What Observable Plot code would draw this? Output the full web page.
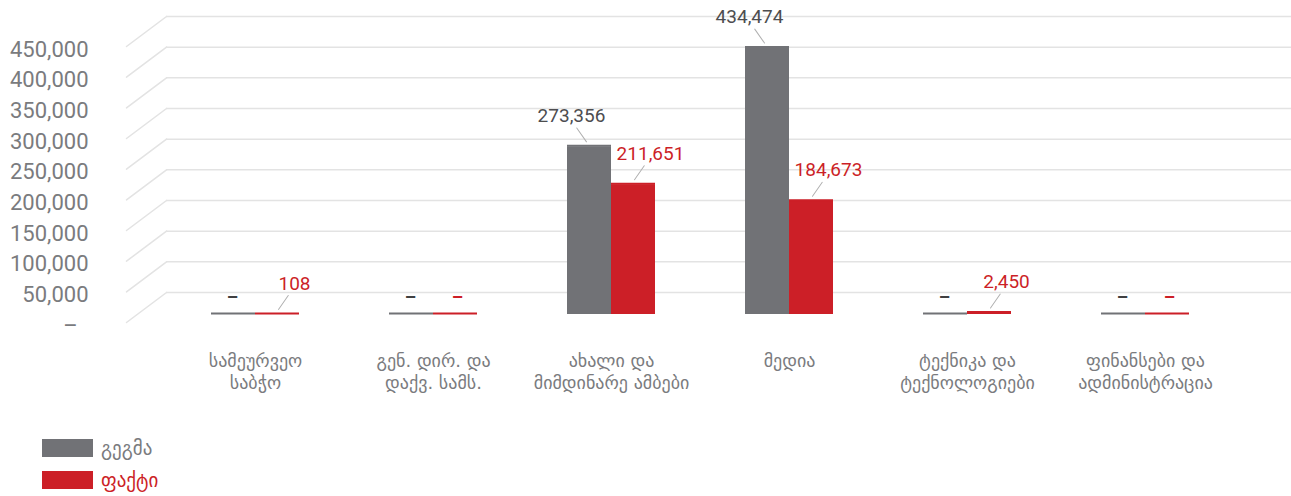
<!DOCTYPE html>
<html>
<head>
<meta charset="utf-8">
<script src="https://cdn.jsdelivr.net/npm/d3@7"></script>
<script src="https://cdn.jsdelivr.net/npm/@observablehq/plot@0.6"></script>
<style>
  body { margin: 0; background: #fff; font-family: Roboto, "DejaVu Sans", sans-serif; }
  #legend { padding: 19px 0 0 42px; }
  .row { display: flex; align-items: center; height: 18px; margin-bottom: 14px; }
  .sw { width: 51px; height: 18px; margin-right: 8px; }
  .lt { font-family: "DejaVu Sans", sans-serif; font-size: 19px; }
</style>
</head>
<body>
<div id="chart"></div>
<div id="legend"></div>
<script>
// ---- data ----
const categories = [
  "სამეურვეო\nსაბჭო",
  "გენ. დირ. და\nდაქვ. სამს.",
  "ახალი და\nმიმდინარე ამბები",
  "მედია",
  "ტექნიკა და\nტექნოლოგიები",
  "ფინანსები და\nადმინისტრაცია"
];
const seriesNames = ["გეგმა", "ფაქტი"];
const planValues = [0, 0, 273356, 434474, 0, 0];
const factValues = [108, 0, 211651, 184673, 2450, 0];
const yTicks = [0, 50000, 100000, 150000, 200000, 250000, 300000, 350000, 400000, 450000];

// ---- styles ----
const barColors = ["#717276", "#cc1f27"];
const labelColors = ["#4d4d4f", "#cc1f27"];
const gridColor = "#e3e3e3";
const axisColor = "#7a7b7e";

const planRows = categories.map((c, i) => ({category: c, value: planValues[i]}));
const factRows = categories.map((c, i) => ({category: c, value: factValues[i]}));
const fmt = d3.format(",");
const lineShape = {draw(context, l) { context.moveTo(0, 0); context.lineTo(0, -l); }};

const chart = Plot.plot({
  width: 1291,
  height: 420,
  marginLeft: 166,
  marginRight: 0,
  marginTop: 38,
  marginBottom: 106,
  style: {fontFamily: "Roboto, 'DejaVu Sans', sans-serif", background: "white"},
  x: {domain: categories, paddingInner: 0.50562, paddingOuter: 0.41292, align: 0.3061, axis: null},
  y: {domain: [0, 450000], axis: null},
  marks: [
    // back wall gridlines
    Plot.ruleY(yTicks, {stroke: gridColor, strokeWidth: 1.5, dy: -22}),
    // slanted side edges of gridlines
    Plot.vector(yTicks, {y: d => d, frameAnchor: "left", dy: -22, length: 50, rotate: 233.13, anchor: "start", shape: lineShape, stroke: gridColor, strokeWidth: 1.5}),
    // y tick labels
    Plot.text(yTicks, {y: d => d, frameAnchor: "left", text: d => d === 0 ? "–\u00a0\u00a0" : fmt(d), textAnchor: "end", dx: -78, dy: 11, fontSize: 22, fill: axisColor}),
    // bars
    Plot.barY(planRows, {x: "category", y: "value", fill: barColors[0], insetRight: 44}),
    Plot.barY(factRows, {x: "category", y: "value", fill: barColors[1], insetLeft: 44}),
    Plot.tickY(planRows, {x: "category", y: "value", stroke: barColors[0], strokeWidth: 2, dy: -1, insetRight: 44}),
    Plot.tickY(factRows, {x: "category", y: "value", stroke: barColors[1], strokeWidth: 2, dy: -1, insetLeft: 44}),
    // leader lines
    Plot.vector(planRows.filter(d => d.value > 0), {x: "category", y: "value", dx: -25, dy: -5, length: 17, rotate: -35, anchor: "start", shape: lineShape, stroke: "#b0b0b0", strokeWidth: 1}),
    Plot.vector(factRows.filter(d => d.value > 0), {x: "category", y: "value", dx: 23, dy: -5, length: 17, rotate: 35, anchor: "start", shape: lineShape, stroke: "#b0b0b0", strokeWidth: 1}),
    // value labels
    Plot.text(planRows.filter(d => d.value > 0), {x: "category", y: "value", text: d => fmt(d.value), dx: -40, dy: -31, fontSize: 19, fill: labelColors[0]}),
    Plot.text(factRows.filter(d => d.value > 0), {x: "category", y: "value", text: d => fmt(d.value), dx: 39, dy: -31, fontSize: 19, fill: labelColors[1]}),
    Plot.text(planRows.filter(d => d.value === 0), {x: "category", y: "value", text: () => "–", dx: -23, dy: -17, fontSize: 18, fontWeight: "bold", fill: "#404041"}),
    Plot.text(factRows.filter(d => d.value === 0), {x: "category", y: "value", text: () => "–", dx: 24, dy: -17, fontSize: 18, fontWeight: "bold", fill: labelColors[1]}),
    // category labels
    Plot.text(categories, {x: d => d, text: d => d, frameAnchor: "bottom", lineAnchor: "top", dy: 37, lineHeight: 1.22, fontSize: 18, fontFamily: "'DejaVu Sans', sans-serif", fill: axisColor})
  ]
});
document.getElementById("chart").appendChild(chart);

const legend = document.getElementById("legend");
seriesNames.forEach((name, i) => {
  const row = document.createElement("div");
  row.className = "row";
  const sw = document.createElement("div");
  sw.className = "sw";
  sw.style.background = barColors[i];
  const t = document.createElement("span");
  t.className = "lt";
  t.textContent = name;
  t.style.color = i === 0 ? axisColor : barColors[1];
  row.appendChild(sw);
  row.appendChild(t);
  legend.appendChild(row);
});
</script>
</body>
</html>
